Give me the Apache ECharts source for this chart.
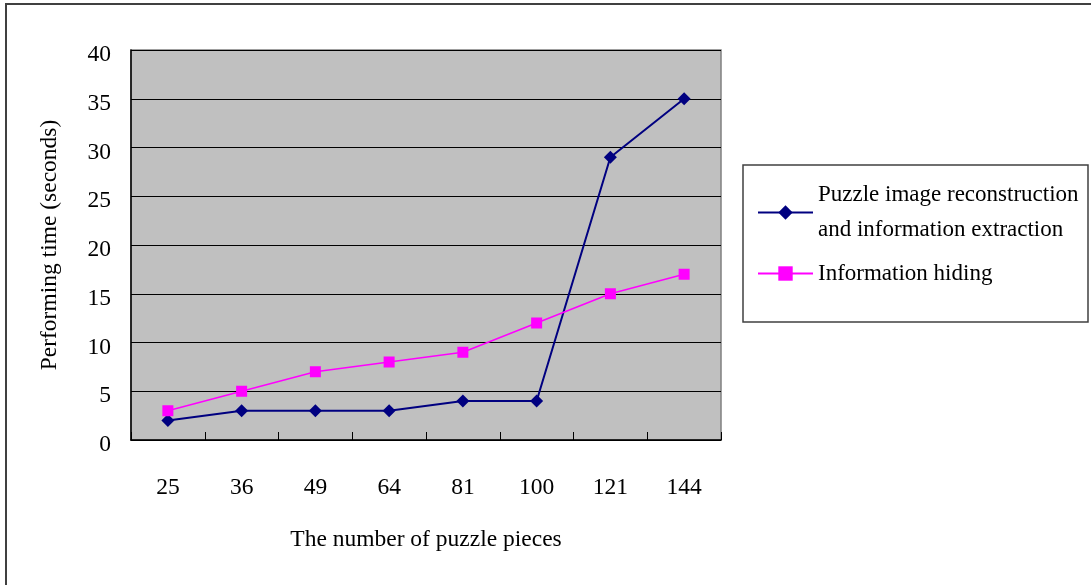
<!DOCTYPE html>
<html>
<head>
<meta charset="utf-8">
<script src="https://cdn.jsdelivr.net/npm/echarts@6/dist/echarts.min.js"></script>
<style>html,body{margin:0;padding:0;background:#fff;}#c{width:1091px;height:585px;}</style>
</head>
<body>
<div id="c"></div>
<script>
var categories = ['25', '36', '49', '64', '81', '100', '121', '144'];
var reconstruction = [2, 3, 3, 3, 4, 4, 29, 35];
var hiding = [3, 5, 7, 8, 9, 12, 15, 17];
var seriesNames = ['Puzzle image reconstruction\nand information extraction', 'Information hiding'];
var xTitle = 'The number of puzzle pieces';
var yTitle = 'Performing time (seconds)';

var FONT = '"Liberation Serif", "Times New Roman", serif';
var FS = 23.5;
var chart = echarts.init(document.getElementById('c'), null, {renderer: 'canvas'});
chart.setOption({
  backgroundColor: '#ffffff',
  animation: false,
  graphic: [
    {type: 'rect', shape: {x: 6, y: 4, width: 1200, height: 700}, style: {fill: 'none', stroke: '#404040', lineWidth: 2}, silent: true},
    {type: 'rect', shape: {x: 743, y: 165, width: 345, height: 157}, style: {fill: '#fff', stroke: '#404040', lineWidth: 1.5}, silent: true, z: -1}
  ],
  grid: {left: 131, top: 50, right: 370, bottom: 145, show: true, backgroundColor: '#C0C0C0', borderColor: '#808080', borderWidth: 1.5},
  legend: {
    orient: 'vertical', left: 752, top: 155, itemWidth: 55, itemHeight: 18, itemGap: -9,
    textStyle: {fontFamily: FONT, fontSize: 23, color: '#000', lineHeight: 35},
    data: [
      {name: seriesNames[0], textStyle: {padding: [35, 0, 0, 0]}},
      {name: seriesNames[1]}
    ]
  },
  xAxis: {
    type: 'category', data: categories, boundaryGap: true,
    name: xTitle, nameLocation: 'middle', nameGap: 88,
    nameTextStyle: {fontFamily: FONT, fontSize: FS, color: '#000'},
    axisLine: {lineStyle: {color: '#000', width: 1.5}},
    axisTick: {show: true, inside: true, length: 8, interval: 0, lineStyle: {color: '#000', width: 1}},
    axisLabel: {fontFamily: FONT, fontSize: FS, color: '#000', margin: 36, interval: 0},
    splitLine: {show: false}
  },
  yAxis: {
    type: 'value', min: 0, max: 40, interval: 5,
    name: yTitle, nameLocation: 'middle', nameGap: 69, nameRotate: 90,
    nameTextStyle: {fontFamily: FONT, fontSize: FS, color: '#000'},
    axisLine: {show: true, lineStyle: {color: '#000', width: 1.5}},
    axisTick: {show: true, inside: true, length: 8, lineStyle: {color: '#000'}},
    axisLabel: {fontFamily: FONT, fontSize: FS, color: '#000', margin: 20, verticalAlign: 'top', lineHeight: 10},
    splitLine: {show: true, lineStyle: {color: '#000', width: 1}}
  },
  series: [
    {name: seriesNames[0], type: 'line', data: reconstruction, symbol: 'diamond', symbolSize: 13,
     lineStyle: {color: '#000080', width: 2}, itemStyle: {color: '#000080'}},
    {name: seriesNames[1], type: 'line', data: hiding, symbol: 'rect', symbolSize: 11,
     lineStyle: {color: '#FF00FF', width: 1.5}, itemStyle: {color: '#FF00FF'}}
  ]
});
</script>
</body>
</html>
